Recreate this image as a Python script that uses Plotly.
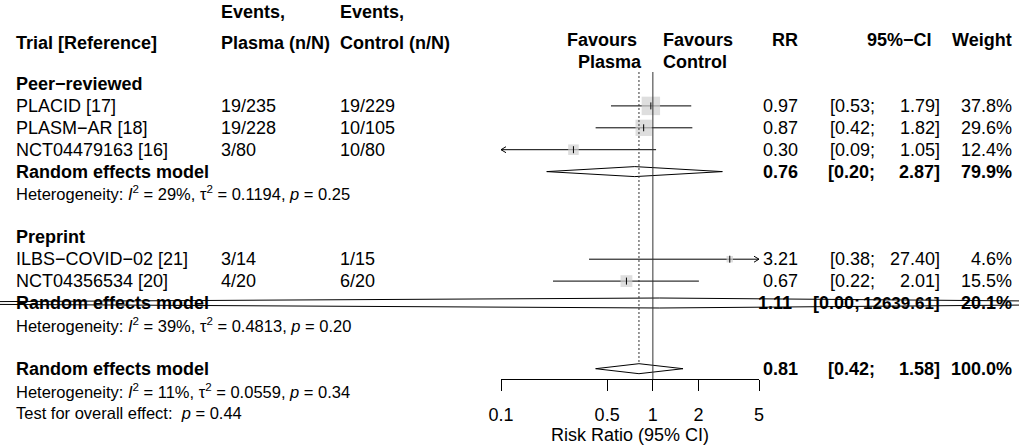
import math
import plotly.graph_objects as go

# ---------------- data ----------------
groups = ["Peer−reviewed", "Preprint"]
studies = ["PLACID [17]", "PLASM−AR [18]", "NCT04479163 [16]",
           "ILBS−COVID−02 [21]", "NCT04356534 [20]"]
events_plasma = ["19/235", "19/228", "3/80", "3/14", "4/20"]
events_control = ["19/229", "10/105", "10/80", "1/15", "6/20"]
rr = [0.97, 0.87, 0.30, 3.21, 0.67]
ci_lo = [0.53, 0.42, 0.09, 0.38, 0.22]
ci_hi = [1.79, 1.82, 1.05, 27.40, 2.01]
weight = [37.8, 29.6, 12.4, 4.6, 15.5]

pooled_label = "Random effects model"
pooled_rr = [0.76, 1.11, 0.81]          # subgroup 1, subgroup 2, overall
pooled_lo = [0.20, 0.000001, 0.42]
pooled_hi = [2.87, 12639.61, 1.58]
pooled_wt = [79.9, 20.1, 100.0]
het_i2 = [29, 39, 11]
het_tau2 = [0.1194, 0.4813, 0.0559]
het_p = [0.25, 0.20, 0.34]
overall_p = 0.44

tick_vals = [0.1, 0.5, 1, 2, 5]
tick_text = ["0.1", "0.5", "1", "2", "5"]
x_label = "Risk Ratio (95% CI)"

# ---------------- layout constants ----------------
W, H = 1019, 445
FONT = "Liberation Sans, Arial, Helvetica, sans-serif"
FS = 18
FS_HET = 16.5
X_LO, X_HI = 501.0, 759.0          # pixel positions of axis ends (0.1 and 5)
AX_MIN, AX_MAX = tick_vals[0], tick_vals[-1]
PPD = (X_HI - X_LO) / (math.log10(AX_MAX) - math.log10(AX_MIN))
AXIS_Y = 379.0
ROW0, PITCH = 84.0, 21.9
TXT_DY = 0.0


def row_y(i):
    return ROW0 + PITCH * i


def px2log(px):
    return math.log10(AX_MIN) + (px - X_LO) / PPD


fig = go.Figure()

# rows
study_rows = [1, 2, 3, 8, 9]
pooled_rows = [4, 10, 13]
group_rows = [0, 7]
het_rows = [5, 11, 14]
test_row = 15

# CI lines and arrows
arm = 5.0 / PPD
for k in range(len(rr)):
    y = row_y(study_rows[k])
    a = max(ci_lo[k], AX_MIN)
    b = min(ci_hi[k], AX_MAX)
    fig.add_trace(go.Scatter(x=[a, b], y=[y, y], mode="lines",
                             line=dict(color="black", width=1),
                             hoverinfo="skip", showlegend=False))
    if ci_lo[k] < AX_MIN:
        xa = a * 10 ** arm
        fig.add_trace(go.Scatter(x=[xa, a, xa], y=[y - 3, y, y + 3], mode="lines",
                                 line=dict(color="black", width=1),
                                 hoverinfo="skip", showlegend=False))
    if ci_hi[k] > AX_MAX:
        xa = b * 10 ** (-arm)
        fig.add_trace(go.Scatter(x=[xa, b, xa], y=[y - 3, y, y + 3], mode="lines",
                                 line=dict(color="black", width=1),
                                 hoverinfo="skip", showlegend=False))

# squares
fig.add_trace(go.Scatter(
    x=rr, y=[row_y(r) for r in study_rows], mode="markers",
    marker=dict(symbol="square", size=[3.0 * math.sqrt(w) for w in weight],
                color="#d0d0d0", line=dict(width=0)),
    hoverinfo="skip", showlegend=False))
fig.add_trace(go.Scatter(
    x=rr, y=[row_y(r) for r in study_rows], mode="markers",
    marker=dict(symbol="line-ns", size=5, line=dict(color="black", width=1)),
    hoverinfo="skip", showlegend=False))

# diamonds
DH = 5.0
for k in range(3):
    yc = row_y(pooled_rows[k])
    fig.add_trace(go.Scatter(
        x=[pooled_lo[k], pooled_rr[k], pooled_hi[k], pooled_rr[k], pooled_lo[k]],
        y=[yc, yc - DH, yc, yc + DH, yc], mode="lines", fill="toself",
        fillcolor="white", line=dict(color="black", width=1),
        hoverinfo="skip", showlegend=False))

# reference lines
LINE_TOP = 72.0
fig.add_trace(go.Scatter(x=[1, 1], y=[LINE_TOP, AXIS_Y], mode="lines",
                         line=dict(color="#333333", width=1),
                         hoverinfo="skip", showlegend=False))
fig.add_trace(go.Scatter(x=[pooled_rr[2], pooled_rr[2]],
                         y=[LINE_TOP, row_y(pooled_rows[2]) - DH], mode="lines",
                         line=dict(color="#333333", width=1, dash="2px,2px"),
                         hoverinfo="skip", showlegend=False))

# dummy trace for the visible axis
fig.add_trace(go.Scatter(x=[1], y=[-100], xaxis="x2", yaxis="y", mode="markers",
                         marker=dict(opacity=0), hoverinfo="skip", showlegend=False))

# ---------------- text ----------------
ann = []


def txt(px, py, s, anchor="left", size=FS, bold=False):
    if bold:
        s = "<b>" + s + "</b>"
    ann.append(dict(x=px / W, y=1 - (py + TXT_DY) / H, xref="paper", yref="paper",
                    text=s, showarrow=False, xanchor=anchor, yanchor="middle",
                    align=anchor, borderpad=0,
                    font=dict(family=FONT, size=size, color="black")))


X_COL1, X_COL2, X_COL3 = 15, 220, 339
X_RR, X_CIL, X_CIU, X_W = 798.5, 876, 941, 1012.5

# headers
txt(X_COL1, 43, "Trial [Reference]", bold=True)
txt(X_COL2, 12, "Events,", bold=True)
txt(X_COL2, 43, "Plasma (n/N)", bold=True)
txt(X_COL3, 12, "Events,", bold=True)
txt(X_COL3, 43, "Control (n/N)", bold=True)
txt(638, 40, "Favours", anchor="right", bold=True)
txt(643, 62, "Plasma", anchor="right", bold=True)
txt(662, 40, "Favours", bold=True)
txt(662, 62, "Control", bold=True)
txt(799, 40, "RR", anchor="right", bold=True)
txt(933, 40, "95%−CI", anchor="right", bold=True)
txt(1012.5, 40, "Weight", anchor="right", bold=True)

for g, r in zip(groups, group_rows):
    txt(X_COL1, row_y(r), g, bold=True)

for k in range(len(studies)):
    y = row_y(study_rows[k])
    txt(X_COL1, y, studies[k])
    txt(X_COL2, y, events_plasma[k])
    txt(X_COL3, y, events_control[k])
    txt(X_RR, y, f"{rr[k]:.2f}", anchor="right")
    txt(X_CIL, y, f"[{ci_lo[k]:.2f};", anchor="right")
    txt(X_CIU, y, f"{ci_hi[k]:.2f}]", anchor="right")
    txt(X_W, y, f"{weight[k]:.1f}%", anchor="right")

rr_x = [X_RR, 793, X_RR]
cil_x = [X_CIL, 861, X_CIL]
ciu_size = [FS, 17, FS]
for k in range(3):
    y = row_y(pooled_rows[k])
    txt(X_COL1, y, pooled_label, bold=True)
    txt(rr_x[k], y, f"{pooled_rr[k]:.2f}", anchor="right", bold=True)
    txt(cil_x[k], y, f"[{pooled_lo[k]:.2f};", anchor="right", bold=True)
    txt(X_CIU, y, f"{pooled_hi[k]:.2f}]", anchor="right", bold=True, size=ciu_size[k])
    txt(X_W, y, f"{pooled_wt[k]:.1f}%", anchor="right", bold=True)
    txt(X_COL1, row_y(het_rows[k]),
        f"Heterogeneity: <i>I</i><sup>2</sup> = {het_i2[k]}%, τ<sup>2</sup> = "
        f"{het_tau2[k]:.4f}, <i>p</i> = {het_p[k]:.2f}", size=FS_HET)

txt(X_COL1, row_y(test_row), f"Test for overall effect: &nbsp;<i>p</i> = {overall_p:.2f}",
    size=FS_HET)

txt((X_LO + X_HI) / 2, 435, x_label, anchor="center")

# ---------------- axes ----------------
fig.update_layout(
    width=W, height=H, margin=dict(l=0, r=0, t=0, b=0, autoexpand=False),
    paper_bgcolor="white", plot_bgcolor="rgba(0,0,0,0)",
    showlegend=False, annotations=ann,
    xaxis=dict(type="log", domain=[0, 1], range=[px2log(0), px2log(W)],
               visible=False, fixedrange=True, automargin=False),
    xaxis2=dict(type="log", domain=[X_LO / W, X_HI / W],
                range=[math.log10(AX_MIN), math.log10(AX_MAX)], anchor="y",
                showline=True, linecolor="black", linewidth=1,
                ticks="outside", ticklen=11, tickwidth=1, tickcolor="black",
                tickvals=tick_vals, ticktext=tick_text, showgrid=False,
                zeroline=False, ticklabelstandoff=8, automargin=False,
                tickfont=dict(family=FONT, size=FS, color="black"), fixedrange=True),
    yaxis=dict(domain=[1 - AXIS_Y / H, 1], range=[AXIS_Y, 0], visible=False,
               fixedrange=True, automargin=False),
)

fig.write_html("out.html")
